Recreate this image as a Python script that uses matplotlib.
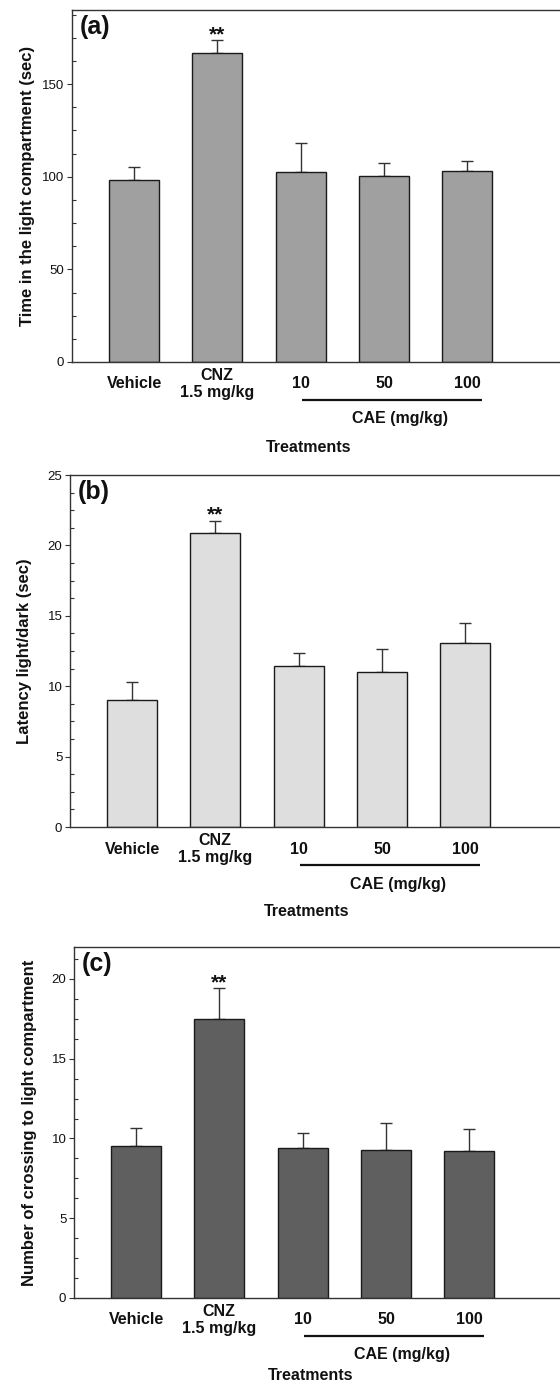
import numpy as np
import matplotlib
matplotlib.use("Agg")
import matplotlib.pyplot as plt
from matplotlib.ticker import MultipleLocator
import matplotlib.transforms as mtransforms

plt.rcParams['font.family'] = ['Liberation Sans', 'DejaVu Sans']

# data
groups = ['Vehicle', 'CNZ\n1.5 mg/kg', '10', '50', '100']

time_light = [98.4, 166.7, 102.3, 100.4, 103.2]
time_light_err = [7.0, 7.0, 16.0, 6.8, 5.4]

latency = [9.0, 20.9, 11.4, 11.0, 13.1]
latency_err = [1.3, 0.85, 0.97, 1.66, 1.37]

crossings = [9.5, 17.5, 9.4, 9.3, 9.24]
crossings_err = [1.15, 1.9, 0.96, 1.69, 1.35]

panels = [
    ('(a)', time_light, time_light_err, 'Time in the light compartment (sec)',
     '#a0a0a0', 190, 50, 12.5, (72, 10, 362), 85),
    ('(b)', latency, latency_err, 'Latency light/dark (sec)',
     '#dedede', 25, 5, 1.25, (70, 475, 827), 84),
    ('(c)', crossings, crossings_err, 'Number of crossing to light compartment',
     '#5f5f5f', 22, 5, 1.25, (74, 947, 1298), 78),
]

W, H = 560, 1386
fig = plt.figure(figsize=(W / 100, H / 100), dpi=100)

x = np.arange(len(groups))
px_per_cat = 83.3
txt = '#111111'
spine = '#333333'

for tag, vals, errs, ylab, color, ymax, major, minor, (left, top, bottom), treat_off in panels:
    # axes box in pixels -> figure fraction
    xmin = -0.745
    xmax = xmin + (W + 10 - left) / px_per_cat
    ax = fig.add_axes([left / W, 1 - bottom / H, (W + 10 - left) / W, (bottom - top) / H])

    ax.bar(x, vals, width=0.6, color=color, edgecolor='#1a1a1a', linewidth=1.0, zorder=2)
    ax.errorbar(x, vals, yerr=[np.zeros(len(errs)), errs], fmt='none',
                ecolor='#333333', elinewidth=1.0, capsize=4, capthick=1.0, zorder=1)

    ax.set_xlim(xmin, xmax)
    ax.set_ylim(0, ymax)

    ax.spines['right'].set_visible(False)
    for s in ['left', 'bottom', 'top']:
        ax.spines[s].set_color(spine)
        ax.spines[s].set_linewidth(1.0)

    ax.yaxis.set_major_locator(MultipleLocator(major))
    ax.yaxis.set_minor_locator(MultipleLocator(minor))
    ax.tick_params(axis='y', which='major', direction='out', length=3.5, width=0.8,
                   colors=spine, labelsize=9.5, labelcolor=txt, pad=2)
    ax.tick_params(axis='y', which='minor', direction='in', length=3, width=0.8, colors=spine)
    ax.set_xticks([])

    ax.set_ylabel(ylab, fontsize=12, fontweight='bold', color=txt)
    ax.yaxis.set_label_coords(-0.075, 0.5)

    # category labels
    trans = mtransforms.blended_transform_factory(ax.transData, ax.transAxes)
    for xi, g in zip(x, groups):
        ax.annotate(g, xy=(xi, 0), xycoords=trans, xytext=(0, -22), textcoords='offset pixels',
                    ha='center', va='center', fontsize=11.5, fontweight='bold', color=txt,
                    linespacing=1.1)

    # CAE bracket line
    line_y = -38 / (bottom - top)
    ax.plot([2.02, 4.18], [line_y, line_y], transform=trans, color='#111111',
            lw=1.6, clip_on=False, solid_capstyle='butt')
    ax.text(3.19, -57 / (bottom - top), 'CAE (mg/kg)', transform=trans, ha='center',
            va='center', fontsize=11.5, fontweight='bold', color=txt)
    ax.text(2.1, -treat_off / (bottom - top), 'Treatments', transform=trans, ha='center',
            va='center', fontsize=11.5, fontweight='bold', color=txt)

    # significance marker on CNZ
    ax.annotate('**', xy=(1, vals[1] + errs[1]), xytext=(0, -4), textcoords='offset pixels',
                ha='center', va='bottom', fontsize=15, fontweight='bold', color=txt)

    ax.text(0.016, 0.985, tag, transform=ax.transAxes, ha='left', va='top',
            fontsize=18, fontweight='bold', color=txt)

fig.savefig('out.png', dpi=100)
